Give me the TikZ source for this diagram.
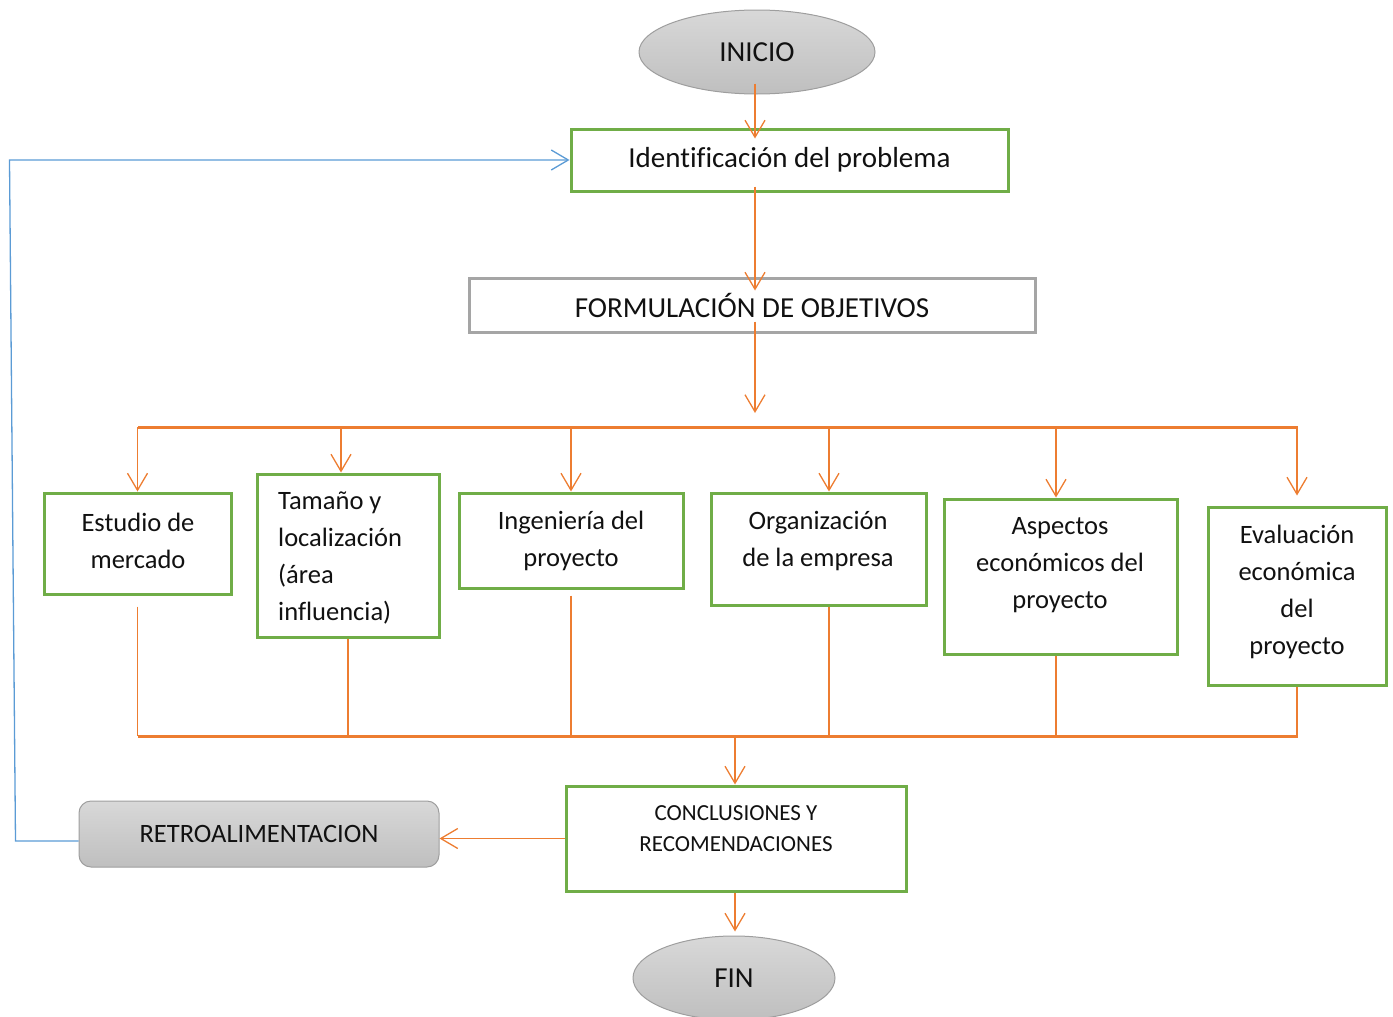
\documentclass[tikz,border=0pt]{standalone}
\usepackage{fontspec}
\setmainfont{Carlito}[Ligatures=NoCommon]
\usetikzlibrary{arrows.meta,shapes.geometric}
\definecolor{flowor}{HTML}{ED7D31}
\definecolor{boxgreen}{HTML}{70AD47}
\definecolor{fbblue}{HTML}{5B9BD5}
\definecolor{edgegray}{HTML}{A5A5A5}
\definecolor{ovaledge}{HTML}{9E9E9E}
\definecolor{shadetop}{HTML}{D8D8D8}
\definecolor{shadebot}{HTML}{BFBFBF}
\definecolor{ink}{HTML}{111111}

\begin{document}
\begin{tikzpicture}[x=1pt,y=-1pt,
  greenbox/.style={draw=boxgreen, line width=3pt, rectangle, fill=white, inner sep=0pt},
  terminal/.style={ellipse, draw=ovaledge, line width=1pt, top color=shadetop, bottom color=shadebot, inner sep=0pt},
  bigtxt/.style={font=\fontsize{29}{35}\selectfont, text=ink},
  boxtxt/.style={font=\fontsize{26.5}{37}\selectfont, text=ink, inner sep=0pt, align=center},
  smalltxt/.style={font=\fontsize{23}{31}\selectfont, text=ink, inner sep=0pt, align=center},
  arr/.style={draw=flowor, line width=1.3pt, -{Straight Barb[length=17pt,width=20pt,line width=1.3pt]}},
  fb/.style={draw=fbblue, line width=1.3pt, -{Straight Barb[length=17pt,width=20pt,line width=1.3pt]}},
  bar/.style={draw=flowor, line width=3pt},
  link/.style={draw=flowor, line width=1.3pt}]

\useasboundingbox (0,0) rectangle (1393,1017);

% start / end ovals
\node[terminal, minimum width=236pt, minimum height=84pt, bigtxt] (ini) at (757,52) {INICIO};
\node[terminal, minimum width=202pt, minimum height=84pt, bigtxt] (fin) at (734,978) {FIN};

% main steps
\node[greenbox, minimum width=437pt, minimum height=62pt, bigtxt] (ident) at (789.5,160) {Identificación del problema};
\node[draw=edgegray, line width=3pt, fill=white, inner sep=0pt, minimum width=566pt, minimum height=54pt, bigtxt] (form) at (752,305) {FORMULACIÓN DE OBJETIVOS};

% study boxes
\node[greenbox, minimum width=187pt, minimum height=101pt] (b1) at (137.5,543.5) {};
\node[greenbox, minimum width=182pt, minimum height=163pt] (b2) at (348,555.5) {};
\node[greenbox, minimum width=224pt, minimum height=95pt] (b3) at (571,540.5) {};
\node[greenbox, minimum width=215pt, minimum height=112pt] (b4) at (818.5,549) {};
\node[greenbox, minimum width=233pt, minimum height=155pt] (b5) at (1060.5,576.5) {};
\node[greenbox, minimum width=178pt, minimum height=178pt] (b6) at (1297,596) {};

\node[boxtxt] (t1) at (138,541) {Estudio de\\mercado};
\node[boxtxt, align=left, anchor=west] (t2) at (278,558) {Tamaño y\\localización\\(área\\influencia)};
\node[boxtxt] (t3) at (571,541) {Ingeniería del\\proyecto};
\node[boxtxt] (t4) at (818,541) {Organización\\de la empresa};
\node[boxtxt] (t5) at (1060,565) {Aspectos\\económicos del\\proyecto};
\node[boxtxt] (t6) at (1297,592) {Evaluación\\económica\\del\\proyecto};

% closing steps
\node[greenbox, minimum width=340pt, minimum height=105pt] (concl) at (736,838.5) {};
\node[smalltxt] (conclt) at (736,829) {CONCLUSIONES Y\\RECOMENDACIONES};
\node[draw=ovaledge, line width=1pt, rounded corners=12pt, top color=shadetop, bottom color=shadebot,
      minimum width=360pt, minimum height=66pt, inner sep=0pt, font=\fontsize{26.5}{32}\selectfont, text=ink] (retro) at (259,834) {RETROALIMENTACION};

% distribution bars
\coordinate (spine) at (755,0);
\coordinate (tl) at (138,427);
\coordinate (tr) at (1298,427);
\coordinate (bl) at (138,736);
\coordinate (br) at (1298,736);

% main flow
\draw[arr] ([yshift=11pt]ini.south -| spine) -- ([yshift=-11pt]spine |- ident.north);
\draw[arr] ([yshift=6pt]spine |- ident.south) -- ([yshift=-14pt]spine |- form.north);
\draw[arr] ([yshift=12pt]spine |- form.south) -- ([yshift=14pt]spine |- tl);

% branches to the studies
\draw[bar] (tl) -- (tr);
\draw[arr] (b1.north |- tl) -- (b1.north);
\draw[arr] ([xshift=-7pt]b2.north |- tl) -- ([xshift=-7pt]b2.north);
\draw[arr] (b3.north |- tl) -- (b3.north);
\draw[arr] ([xshift=10.5pt]b4.north |- tl) -- ([xshift=10.5pt]b4.north);
\draw[arr] ([xshift=-4.5pt]b5.north |- tl) -- ([xshift=-4.5pt]b5.north);
\draw[arr] (b6.north |- tl) -- ([yshift=10pt]b6.north);

% studies merge
\draw[link] ([yshift=-11pt]b1.south) -- (b1.south |- bl);
\draw[link] (b2.south) -- (b2.south |- bl);
\draw[link] ([yshift=-6pt]b3.south) -- (b3.south |- bl);
\draw[link] ([xshift=10.5pt]b4.south) -- ([xshift=10.5pt]b4.south |- bl);
\draw[link] ([xshift=-4.5pt]b5.south) -- ([xshift=-4.5pt]b5.south |- bl);
\draw[link] (b6.south) -- (b6.south |- bl);
\draw[bar] (bl) -- (br);

\draw[arr] ([xshift=-1pt]concl.north |- bl) -- ([xshift=-1pt]concl.north);
\draw[arr] (concl.west) -- (concl.west -| retro.east);
\draw[arr] ([xshift=-1pt]concl.south) -- ([yshift=4pt,xshift=1pt]fin.north);

% feedback loop
\draw[fb] ([yshift=-7pt]retro.west) -- ++(-63,0) -- ++(-6,-681) -- (ident.west);
\end{tikzpicture}
\end{document}
